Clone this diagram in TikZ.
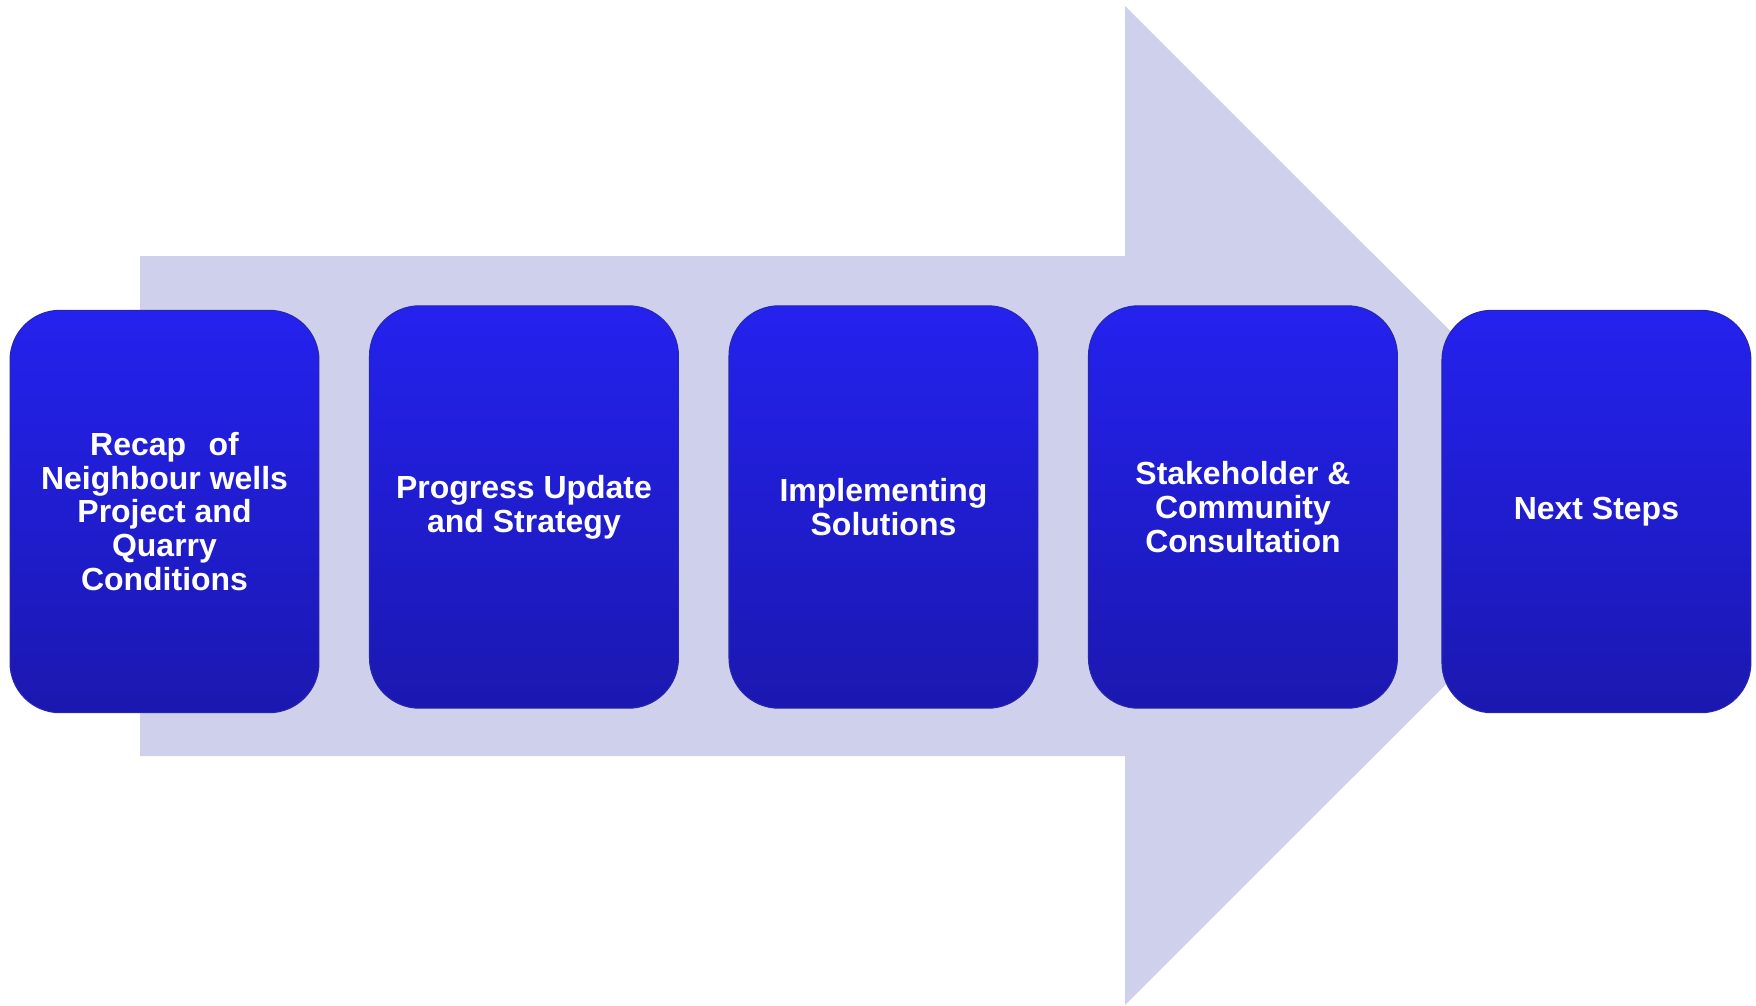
\documentclass[tikz,border=0pt]{standalone}
\usepackage{fontspec}
\setmainfont{Liberation Sans}
\usetikzlibrary{positioning}
\definecolor{arrowfill}{RGB}{206,208,236}
\definecolor{boxtop}{RGB}{36,34,238}
\definecolor{boxbot}{RGB}{27,24,176}
\definecolor{boxedge}{RGB}{40,38,170}
\tikzset{
stage/.style={rounded corners=1cm, minimum width=6.18cm, minimum height=8.05cm, % size of each stage box
top color=boxtop, bottom color=boxbot, draw=boxedge, line width=0.6pt,
text=white, align=center, font=\bfseries\fontsize{18.2}{19.2}\selectfont}, % white bold text
node distance=0.99cm, % gap between two stages
}

\begin{document}
\begin{tikzpicture}[x=0.02cm,y=-0.02cm]
\useasboundingbox (0,0) rectangle (1756,1005);
% the big pale arrow behind the stages
\fill[arrowfill] (140,256) -- (1125,256) -- (1125,6) -- (1625,505.5)
-- (1125,1005) -- (1125,756) -- (140,756) -- cycle;
\node[stage] (recap) at (164.5,511.5) {Recap\hspace{0.45cm}of\\Neighbour wells\\Project and\\Quarry\\Conditions};
\node[stage] (progress) [right=of recap, yshift=0.09cm] {Progress Update\\and Strategy};
\node[stage] (implement) [right=of progress] {Implementing\\Solutions};
\node[stage] (consult) [right=of implement] {Stakeholder \&\\Community\\Consultation};
\node[stage] (next) [right=0.87cm of consult, yshift=-0.09cm] {Next Steps};
\end{tikzpicture}
\end{document}
